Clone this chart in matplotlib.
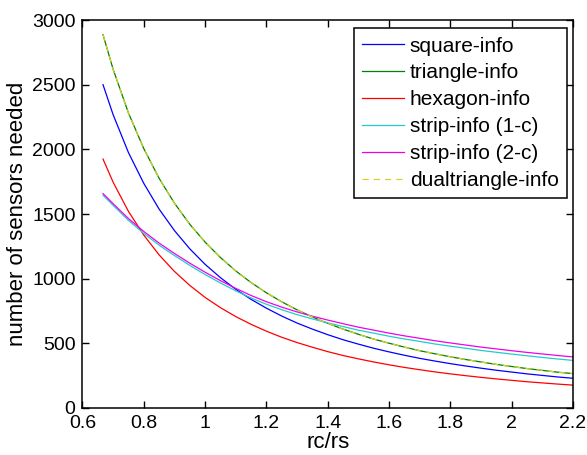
import matplotlib
matplotlib.use("Agg")
import matplotlib.pyplot as plt

# rc/rs sample points
ratio = [0.667, 0.70, 0.75, 0.80, 0.85, 0.90, 0.95, 1.00, 1.05, 1.10, 1.15,
         1.20, 1.25, 1.30, 1.35, 1.40, 1.45, 1.50, 1.55, 1.60, 1.65, 1.70,
         1.75, 1.80, 1.85, 1.90, 1.95, 2.00, 2.05, 2.10, 2.15, 2.20]

square_info = [2500, 2268, 1975, 1737, 1538, 1372, 1231, 1111, 1008, 918, 840,
               772, 711, 657, 610, 567, 528, 494, 462, 434, 408, 384,
               363, 343, 325, 308, 292, 278, 264, 252, 240, 230]

triangle_info = [2887, 2619, 2281, 2006, 1776, 1584, 1421, 1283, 1164, 1060, 970,
                 891, 821, 759, 704, 655, 610, 570, 533, 501, 471, 443,
                 419, 396, 375, 356, 337, 321, 305, 291, 277, 266]

hexagon_info = [1925, 1746, 1520, 1337, 1184, 1056, 948, 855, 776, 707, 647,
                594, 547, 506, 470, 436, 406, 380, 356, 334, 314, 296,
                279, 264, 250, 237, 225, 214, 203, 194, 185, 177]

strip_1c = [1646, 1567, 1451, 1350, 1259, 1179, 1103, 1032, 967, 906, 851,
            802, 760, 722, 689, 658, 630, 602, 579, 555, 534, 515,
            495, 478, 462, 445, 431, 417, 404, 391, 379, 368]

strip_2c = [1658, 1580, 1465, 1365, 1275, 1195, 1120, 1050, 985, 925, 870,
            822, 780, 743, 710, 680, 652, 625, 602, 579, 558, 539,
            520, 503, 487, 471, 457, 443, 430, 418, 406, 395]

dualtriangle_info = [2887, 2619, 2281, 2006, 1776, 1584, 1421, 1283, 1164, 1060, 970,
                     891, 821, 759, 704, 655, 610, 570, 533, 501, 471, 443,
                     419, 396, 375, 356, 337, 321, 305, 291, 277, 266]

xticks = [0.6, 0.8, 1.0, 1.2, 1.4, 1.6, 1.8, 2.0, 2.2]
xticklabels = ["0.6", "0.8", "1", "1.2", "1.4", "1.6", "1.8", "2", "2.2"]
yticks = [0, 500, 1000, 1500, 2000, 2500, 3000]

plt.rcParams["font.family"] = ["Liberation Sans", "DejaVu Sans"]

fig = plt.figure(figsize=(5.87, 4.55), dpi=100)
ax = fig.add_axes([0.1405, 0.1033, 0.8355, 0.8527])

lw = 0.9
ax.plot(ratio, square_info, color="#0000ff", lw=lw, label="square-info")
ax.plot(ratio, triangle_info, color="#008000", lw=lw, label="triangle-info")
ax.plot(ratio, hexagon_info, color="#ff0000", lw=lw, label="hexagon-info")
ax.plot(ratio, strip_1c, color="#22cccc", lw=lw, label="strip-info (1-c)")
ax.plot(ratio, strip_2c, color="#ee00ee", lw=lw, label="strip-info (2-c)")
ax.plot(ratio, dualtriangle_info, color="#d2d22a", lw=lw, ls=(0, (5, 4)),
        label="dualtriangle-info")

ax.set_xlim(0.6, 2.2)
ax.set_ylim(0, 3000)
ax.set_xticks(xticks)
ax.set_xticklabels(xticklabels)
ax.set_yticks(yticks)
ax.tick_params(direction="in", top=True, right=True, length=5, width=1,
               labelsize=14, pad=5)
for s in ax.spines.values():
    s.set_linewidth(1.1)

ax.set_xlabel("rc/rs", fontsize=16, labelpad=0)
ax.set_ylabel("number of sensors needed", fontsize=16, labelpad=3)

leg = ax.legend(loc="upper right", bbox_to_anchor=(0.988, 0.979),
                fontsize=15, frameon=True, fancybox=False, framealpha=1,
                edgecolor="black", borderaxespad=0, labelspacing=0.38,
                handlelength=2.0, handletextpad=0.3, borderpad=0.4)
leg.get_frame().set_linewidth(1.1)

fig.savefig("out.png", dpi=100)
